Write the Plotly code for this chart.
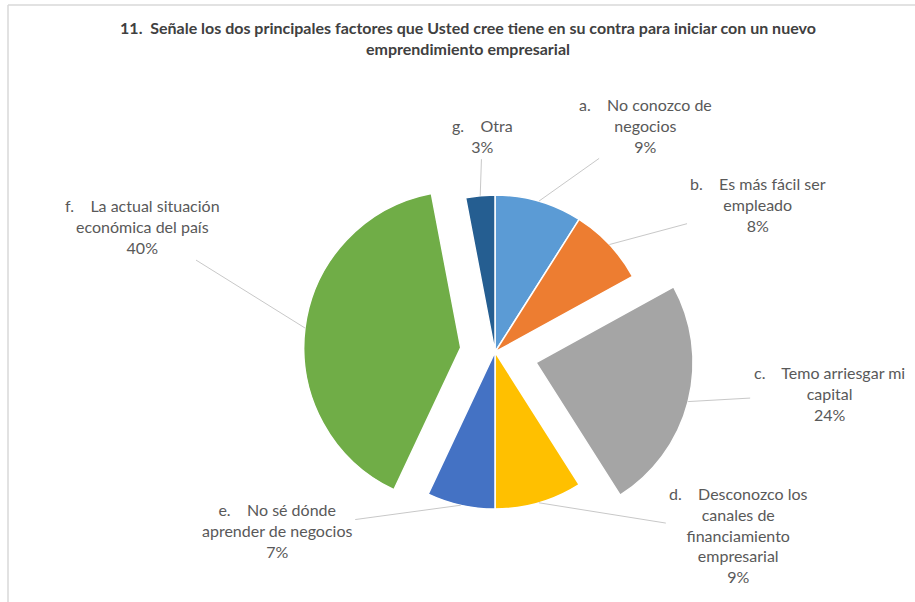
import math
import plotly.graph_objects as go

# ---------------- data ----------------
letters = ["a.", "b.", "c.", "d.", "e.", "f.", "g."]
categories = [
    "No conozco de negocios",
    "Es más fácil ser empleado",
    "Temo arriesgar mi capital",
    "Desconozco los canales de financiamiento empresarial",
    "No sé dónde aprender de negocios",
    "La actual situación económica del país",
    "Otra",
]
# label text as wrapped in the reference (first line follows the letter)
label_lines = [
    ["No conozco de", "negocios"],
    ["Es más fácil ser", "empleado"],
    ["Temo arriesgar mi", "capital"],
    ["Desconozco los", "canales de", "financiamiento", "empresarial"],
    ["No sé dónde", "aprender de negocios"],
    ["La actual situación", "económica del país"],
    ["Otra"],
]
percent = [9, 8, 24, 9, 7, 40, 3]

# ---------------- style ----------------
colors = ["#5B9BD5", "#ED7D31", "#A5A5A5", "#FFC000", "#4472C4", "#70AD47", "#255E91"]
pulls = [0, 0, 0.27, 0, 0, 0.22, 0]
# label offsets (pixels) from the slice edge to the label centre
label_offsets = [(107, -76), (149, -40), (141, -8), (200, 32), (-184, 25), (-162, -101), (2, -60)]

W, H = 915, 602
CX, CY, R = 495, 352, 157  # pie centre and radius in pixels
FONT = "Lato, 'Open Sans', sans-serif"
TXT = "#595959"

half = R * (1 + max(pulls))
dom_x = [(CX - half) / W, (CX + half) / W]
dom_y = [1 - (CY + half) / H, 1 - (CY - half) / H]

fig = go.Figure(
    go.Pie(
        labels=[f"{l} {c}" for l, c in zip(letters, categories)],
        values=percent,
        sort=False,
        direction="clockwise",
        rotation=0,
        pull=pulls,
        marker=dict(colors=colors, line=dict(color="white", width=1.5)),
        textinfo="none",
        hoverinfo="label+percent",
        domain=dict(x=dom_x, y=dom_y),
        showlegend=False,
    )
)

# data labels with leader lines, anchored on each slice's outer edge at its mid-angle
total = sum(percent)
cum = 0
annotations = []
for i, v in enumerate(percent):
    theta = math.radians(360 * (cum + v / 2) / total)
    cum += v
    rr = R * (1 + pulls[i])
    px = CX + rr * math.sin(theta)
    py = CY - rr * math.cos(theta)
    nb = "\u00a0" * 4
    lines = [f"{letters[i]}{nb}{label_lines[i][0]}"] + label_lines[i][1:] + [f"{percent[i]}%"]
    annotations.append(
        dict(
            x=px / W, y=1 - py / H, xref="paper", yref="paper",
            ax=label_offsets[i][0], ay=label_offsets[i][1],
            text="<br>".join(lines),
            showarrow=True, arrowhead=0, arrowwidth=1, arrowcolor="#C8C8C8",
            standoff=0, startstandoff=2,
            align="center",
            font=dict(family=FONT, size=16, color=TXT),
        )
    )

fig.update_layout(
    width=W, height=H,
    margin=dict(l=0, r=0, t=0, b=0),
    paper_bgcolor="white", plot_bgcolor="white",
    title=dict(
        text="<b>11.\u00a0 Señale los dos principales factores que Usted cree tiene en su contra para iniciar con un nuevo<br>emprendimiento empresarial</b>",
        x=468 / W, xanchor="center", xref="container",
        y=1 - 34 / H, yanchor="middle", yref="container",
        font=dict(family=FONT, size=16, color="#404040"),
    ),
    annotations=annotations,
    shapes=[
        dict(type="line", xref="paper", yref="paper", x0=8 / W, x1=1, y0=1 - 5 / H, y1=1 - 5 / H,
             line=dict(color="#D9D9D9", width=1.5)),
        dict(type="line", xref="paper", yref="paper", x0=8 / W, x1=8 / W, y0=0, y1=1 - 5 / H,
             line=dict(color="#D9D9D9", width=1.5)),
    ],
)

fig.write_html("out.html")
